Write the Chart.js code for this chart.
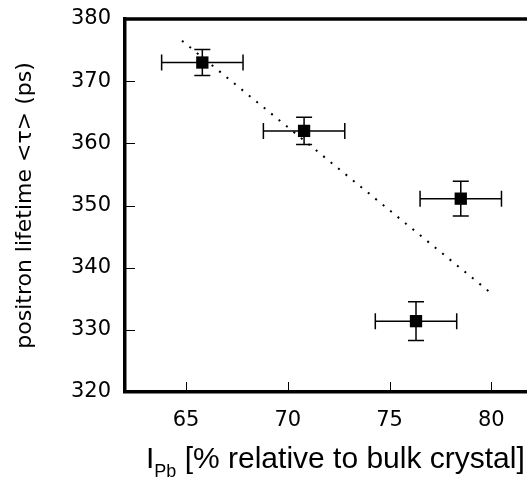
<!DOCTYPE html>
<html>
<head>
<meta charset="utf-8">
<script src="https://cdn.jsdelivr.net/npm/chart.js@4.4.0/dist/chart.umd.min.js"></script>
<style>
    html, body { margin: 0; padding: 0; overflow: hidden; background: #fff; }
    canvas { display: block; }
</style>
</head>
<body>
<canvas id="lifetimeChart" width="532" height="478"></canvas>
<script>
// data
const intensity = [65.8, 70.8, 78.5, 76.3];
const lifetime = [373.0, 362.0, 351.1, 331.4];
const intensityErr = [2.0, 2.0, 2.0, 2.0];
const lifetimeErr = [2.1, 2.2, 2.8, 3.1];

// dotted guide line ends
const fitX = [64.8, 80.1];
const fitY = [376.5, 335.6];

const xTicks = [65, 70, 75, 80];
const yTicks = [320, 330, 340, 350, 360, 370, 380];

let points = intensity.map((v, i) => ({x: v, y: lifetime[i]}));
let fitLine = fitX.map((v, i) => ({x: v, y: fitY[i]}));

/**
 * error bars + inward ticks + top frame line
 **/
const extrasPlugin = {
    id: 'extras',
    beforeDatasetsDraw(chart) {
        let ctx = chart.ctx;
        let xs = chart.scales.x;
        let ys = chart.scales.y;
        ctx.save();
        ctx.strokeStyle = '#000';
        ctx.lineWidth = 1.5;
        for (let i = 0; i < intensity.length; i++) {
            let px = xs.getPixelForValue(intensity[i]);
            let py = ys.getPixelForValue(lifetime[i]);
            let x1 = xs.getPixelForValue(intensity[i] - intensityErr[i]);
            let x2 = xs.getPixelForValue(intensity[i] + intensityErr[i]);
            let y1 = ys.getPixelForValue(lifetime[i] - lifetimeErr[i]);
            let y2 = ys.getPixelForValue(lifetime[i] + lifetimeErr[i]);
            ctx.beginPath();
            ctx.moveTo(x1, py); ctx.lineTo(x2, py);
            ctx.moveTo(x1, py - 8); ctx.lineTo(x1, py + 8);
            ctx.moveTo(x2, py - 8); ctx.lineTo(x2, py + 8);
            ctx.moveTo(px, y1); ctx.lineTo(px, y2);
            ctx.moveTo(px - 8, y1); ctx.lineTo(px + 8, y1);
            ctx.moveTo(px - 8, y2); ctx.lineTo(px + 8, y2);
            ctx.stroke();
        }
        ctx.restore();
    },
    afterDraw(chart) {
        let ctx = chart.ctx;
        let area = chart.chartArea;
        let xs = chart.scales.x;
        let ys = chart.scales.y;
        ctx.save();
        ctx.strokeStyle = '#000';
        ctx.lineWidth = 1;
        ctx.beginPath();
        yTicks.forEach(v => {
            let y = Math.round(ys.getPixelForValue(v)) + 0.5;
            ctx.moveTo(area.left, y); ctx.lineTo(area.left + 10, y);
        });
        xTicks.forEach(v => {
            let x = Math.round(xs.getPixelForValue(v)) + 0.5;
            ctx.moveTo(x, area.bottom); ctx.lineTo(x, area.bottom - 10);
        });
        ctx.stroke();

        // top frame
        ctx.lineWidth = 3.5;
        ctx.beginPath();
        ctx.moveTo(area.left - 1.75, area.top);
        ctx.lineTo(area.right, area.top);
        ctx.stroke();

        // x axis title with subscript
        ctx.fillStyle = '#000';
        ctx.textBaseline = 'alphabetic';
        ctx.textAlign = 'left';
        let tx = area.left + 21;
        let ty = area.bottom + 76;
        ctx.font = '30px "Liberation Sans", Arial, sans-serif';
        ctx.fillText('I', tx, ty);
        tx += ctx.measureText('I').width;
        ctx.font = '18px "Liberation Sans", Arial, sans-serif';
        ctx.fillText('Pb', tx, ty + 8.5);
        tx += ctx.measureText('Pb').width;
        ctx.font = '30px "Liberation Sans", Arial, sans-serif';
        ctx.fillText(' [% relative to bulk crystal]', tx, ty);
        ctx.restore();
    }
};

new Chart(document.getElementById('lifetimeChart'), {
    type: 'scatter',
    data: {
        datasets: [{
            label: 'points',
            data: points,
            pointStyle: 'rect',
            pointRadius: 8.7,
            pointBorderWidth: 0,
            backgroundColor: '#000',
            borderColor: '#000',
            showLine: false,
            order: 1
        }, {
            label: 'guide',
            data: fitLine,
            showLine: true,
            pointRadius: 0,
            borderColor: '#000',
            borderWidth: 2,
            borderDash: [2, 7.6],
            borderCapStyle: 'butt',
            order: 2
        }]
    },
    plugins: [extrasPlugin],
    options: {
        responsive: false,
        animation: false,
        layout: {autoPadding: false, padding: {top: 19, right: 0, left: 0, bottom: 0}},
        plugins: {
            legend: {display: false},
            tooltip: {enabled: false}
        },
        scales: {
            x: {
                type: 'linear',
                min: 62,
                max: 82,
                afterBuildTicks: (s) => { s.ticks = xTicks.map(v => ({value: v})); },
                afterFit: (s) => { s.height = 86; s.paddingLeft = 0; s.paddingRight = 0; },
                grid: {display: false, drawTicks: false},
                border: {display: true, color: '#000', width: 3.5},
                ticks: {
                    color: '#000',
                    padding: 16,
                    maxRotation: 0,
                    font: {family: '"DejaVu Sans"', size: 21}
                }
            },
            y: {
                type: 'linear',
                min: 320,
                max: 380,
                afterBuildTicks: (s) => { s.ticks = yTicks.map(v => ({value: v})); },
                afterFit: (s) => { s.width = 125; s.paddingTop = 0; s.paddingBottom = 0; },
                grid: {display: false, drawTicks: false},
                border: {display: true, color: '#000', width: 3.5},
                ticks: {
                    color: '#000',
                    padding: 14,
                    font: {family: '"DejaVu Sans"', size: 21}
                },
                title: {
                    display: true,
                    text: 'positron lifetime <\u03c4> (ps)',
                    color: '#000',
                    padding: {top: 12, bottom: 0},
                    font: {family: '"DejaVu Sans"', size: 22}
                }
            }
        }
    }
});
</script>
</body>
</html>
